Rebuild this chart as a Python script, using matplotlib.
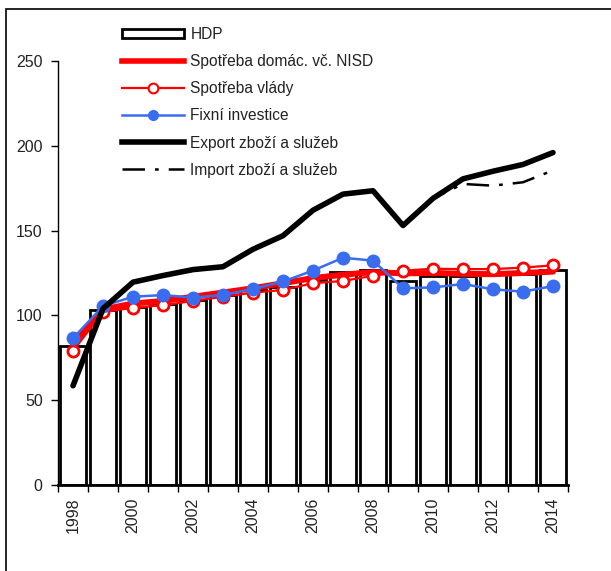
import numpy as np
import matplotlib
matplotlib.use("Agg")
import matplotlib.pyplot as plt
from matplotlib.patches import Patch, Rectangle
from matplotlib.lines import Line2D

plt.rcParams['font.family'] = ['Liberation Sans', 'DejaVu Sans']

# %% data (indices)
years = list(range(1998, 2015))
hdp = [82, 103, 105, 107, 109, 112, 115, 117, 121, 125.5, 126.5, 120.5, 123, 123.5, 124.5, 124.5, 126.5]
spotreba_domac = [83, 103.5, 107, 108.5, 111, 113.5, 116, 119, 122, 124, 125.5, 124.8, 125, 124.5, 124.3, 125, 125.8]
spotreba_vlady = [79, 102, 104.5, 106, 108.5, 111, 113.4, 115, 119, 120.3, 123.4, 126.4, 127.5, 127.3, 127.3, 128.2, 129.5]
fixni_investice = [86.5, 105.5, 111, 112, 110.5, 112, 115.6, 120, 126.4, 134, 132.3, 116, 116.5, 118.5, 115.4, 114, 117.3]
export = [58.5, 104, 119.6, 123.5, 127, 128.7, 139, 147, 162, 171.5, 173.5, 153, 169, 180.5, 185, 189, 196]
import_ = [58.5, 104, 119.6, 123.5, 127, 128.7, 139, 147, 162, 171.5, 173.5, 153, 169, 177.5, 176.5, 178.5, 185.5]

labels = ['HDP', 'Spotřeba domác. vč. NISD', 'Spotřeba vlády', 'Fixní investice',
          'Export zboží a služeb', 'Import zboží a služeb']

# %% plot
fig = plt.figure(figsize=(6.11, 5.71), dpi=100)
ax = fig.add_axes([58 / 611, 1 - 485 / 571, 510 / 611, 424 / 571])

x = np.arange(len(years))
blue = '#3a6cf0'
txt = '#222222'

ax.bar(x, hdp, width=0.88, facecolor='white', edgecolor='black', linewidth=2, zorder=1)
ax.plot(x, spotreba_domac, color='#ff0000', lw=4.3, solid_capstyle='round', zorder=3)
ax.plot(x, spotreba_vlady, color='#ff0000', lw=1.6, marker='o', ms=8,
        mfc='white', mec='#ff0000', mew=2, zorder=4)
ax.plot(x, fixni_investice, color=blue, lw=1.8, marker='o', ms=9,
        mfc=blue, mec=blue, zorder=5)
ax.plot(x, import_, color='black', lw=1.8, dashes=(9, 4, 1.5, 4), zorder=6)
ax.plot(x, export, color='black', lw=4, solid_capstyle='round', zorder=7)

ax.set_xlim(-0.5, len(years) - 0.5)
ax.set_ylim(0, 250)
ax.set_yticks([0, 50, 100, 150, 200, 250])
ax.tick_params(axis='y', direction='out', length=5, width=1, labelsize=11.5, pad=6,
               labelcolor=txt)

# tick marks between categories, labels every other year
ax.set_xticks(np.arange(-0.5, len(years), 1))
ax.set_xticklabels([])
ax.tick_params(axis='x', which='major', direction='out', length=5, width=1)
ax.set_xticks(x[::2], minor=True)
ax.set_xticklabels([str(y) for y in years[::2]], minor=True, rotation=90)
ax.tick_params(axis='x', which='minor', length=0, labelsize=11.5, pad=9, labelcolor=txt)

for s in ['top', 'right']:
    ax.spines[s].set_visible(False)
ax.spines['left'].set_linewidth(1)
ax.spines['bottom'].set_linewidth(2)

handles = [
    Patch(facecolor='white', edgecolor='black', linewidth=2),
    Line2D([], [], color='#ff0000', lw=4),
    Line2D([], [], color='#ff0000', lw=1.6, marker='o', ms=7, mfc='white', mec='#ff0000', mew=1.5),
    Line2D([], [], color=blue, lw=1.8, marker='o', ms=7, mfc=blue, mec=blue),
    Line2D([], [], color='black', lw=4),
    Line2D([], [], color='black', lw=1.8, dashes=(9, 4, 1.5, 4)),
]
leg = fig.legend(handles, labels, loc='upper left', bbox_to_anchor=(122 / 611, 1 - 27 / 571),
                 frameon=False, fontsize=11.2, handlelength=4.0, handletextpad=0.4,
                 labelspacing=0.78, borderpad=0, borderaxespad=0, handleheight=0.6)
for t in leg.get_texts():
    t.set_color(txt)

# outer frame (only top and left edges fall inside the picture)
fig.add_artist(Rectangle((6 / 611, -0.1), 1.2, 1.1 - 9 / 571, transform=fig.transFigure,
                         fill=False, edgecolor='black', linewidth=1.2))

fig.savefig('out.png', dpi=100)
